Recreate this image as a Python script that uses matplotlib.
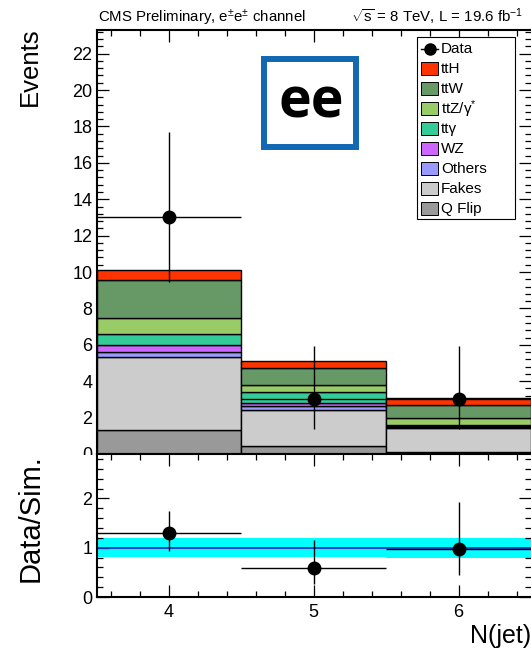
import numpy as np
import matplotlib
matplotlib.use('Agg')
import matplotlib.pyplot as plt
from matplotlib.patches import Rectangle
from matplotlib.lines import Line2D
from matplotlib.ticker import MultipleLocator

plt.rcParams['font.family'] = ['Liberation Sans', 'DejaVu Sans']
plt.rcParams['mathtext.fontset'] = 'custom'
plt.rcParams['mathtext.rm'] = 'Liberation Sans'
plt.rcParams['mathtext.it'] = 'Liberation Sans:italic'
plt.rcParams['mathtext.bf'] = 'Liberation Sans:bold'

# ---------------- data ----------------
njet = [4, 5, 6]
qflip = [1.32, 0.44, 0.13]
fakes = [4.03, 1.96, 1.32]
others = [0.24, 0.26, 0.06]
wz = [0.38, 0.14, 0.04]
ttgamma = [0.64, 0.59, 0.03]
ttz = [0.86, 0.42, 0.42]
ttw = [2.07, 0.90, 0.70]
tth = [0.57, 0.42, 0.36]

data = [13, 3, 3]
data_err_lo = [3.56, 1.63, 1.63]
data_err_hi = [4.68, 2.92, 2.92]

ratio = [1.29, 0.58, 0.98]
ratio_lo = [0.935, 0.27, 0.44]
ratio_hi = [1.75, 1.15, 1.93]
band_lo = [0.81, 0.81, 0.785]
band_hi = [1.19, 1.19, 1.19]

stack_names = ['Q Flip', 'Fakes', 'Others', 'WZ', 'tt\u03b3', 'ttZ/\u03b3$^{*}$', 'ttW', 'ttH']
stack_vals = [qflip, fakes, others, wz, ttgamma, ttz, ttw, tth]
stack_cols = ['#999999', '#CCCCCC', '#9999FF', '#CC66FF', '#33CC99', '#99CC66', '#669966', '#FF3300']

# ---------------- figure ----------------
W, H = 531, 653
fig = plt.figure(figsize=(W / 100, H / 100), dpi=100)

def fx(x):
    return x / W

def fy(y):
    return 1 - y / H

ax = fig.add_axes([fx(96.5), fy(454), 1 - fx(96.5), (454 - 30) / H])
axr = fig.add_axes([fx(96.5), fy(597), 1 - fx(96.5), (597 - 454) / H])

bottom = np.zeros(len(njet))
for vals, col in zip(stack_vals, stack_cols):
    ax.bar(njet, vals, width=1.0, bottom=bottom, color=col, edgecolor='black',
           linewidth=1.0, zorder=2)
    bottom += np.array(vals)

ax.errorbar(njet, data, xerr=0.5, yerr=[data_err_lo, data_err_hi], fmt='o',
            color='black', ms=9, elinewidth=1.0, capsize=0, zorder=5, clip_on=False)

# ratio panel
axr.bar(njet, np.array(band_hi) - np.array(band_lo), bottom=band_lo, width=1.0,
        color='#00FFFF', linewidth=0, zorder=1)
axr.axhline(1.0, color='#2233CC', lw=1.3, zorder=2)
rlo = np.array(ratio) - np.array(ratio_lo)
rhi = np.array(ratio_hi) - np.array(ratio)
axr.errorbar(njet, ratio, xerr=0.5, yerr=[rlo, rhi], fmt='o', color='black', ms=9,
             elinewidth=1.0, capsize=0, zorder=5, clip_on=False)

for a in (ax, axr):
    a.set_xlim(3.5, 6.5)
    a.xaxis.set_major_locator(MultipleLocator(1))
    a.xaxis.set_minor_locator(MultipleLocator(0.2))
    a.tick_params(which='both', direction='in', top=True, right=True, width=0.9,
                  labelsize=13, colors='black')
    a.tick_params(which='major', length=8.6)
    a.tick_params(which='minor', length=4.3)
    for s in ('left', 'bottom', 'top'):
        a.spines[s].set_linewidth(1.5)
    a.spines['right'].set_visible(False)

ax.set_ylim(0, 23.3)
ax.yaxis.set_major_locator(MultipleLocator(2))
ax.yaxis.set_minor_locator(MultipleLocator(0.4))
ax.tick_params(axis='x', labelbottom=False)
ax.tick_params(axis='y', pad=3)

axr.set_ylim(0, 2.9)
axr.yaxis.set_major_locator(MultipleLocator(1))
axr.yaxis.set_minor_locator(MultipleLocator(0.2))
axr.tick_params(axis='x', pad=5)
axr.tick_params(axis='y', pad=3)

# cover the lower half of the top panel's "0" label like the lower pad does
fig.add_artist(Rectangle((0, fy(472)), fx(94), (472 - 455) / H, transform=fig.transFigure,
                         facecolor='white', edgecolor='none', zorder=1.5))

# axis titles
fig.text(fx(30), fy(27), 'Events', rotation=90, ha='center', va='top', fontsize=18.5)
fig.text(fx(31), fy(454), 'Data/Sim.', rotation=90, ha='center', va='top', fontsize=21)
fig.text(fx(531), fy(643), 'N(jet)', ha='right', va='baseline', fontsize=18)

# header
fig.text(fx(98), fy(22.5), 'CMS Preliminary, e$^{\\pm}$e$^{\\pm}$ channel', fontsize=10.8,
         ha='left', va='baseline')
fig.text(fx(523), fy(22.5), r'$\sqrt{\mathrm{s}}$ = 8 TeV, L = 19.6 fb$^{-1}$', fontsize=10.8,
         ha='right', va='baseline')

# "ee" box
fig.add_artist(Rectangle((fx(264), fy(147)), (356 - 264) / W, (147 - 59) / H,
                         transform=fig.transFigure, fill=False, edgecolor='#1268B3',
                         linewidth=4.3, zorder=6))
fig.text(fx(311), fy(118), 'ee', ha='center', va='baseline', fontsize=40,
         fontweight='bold', family=['Open Sans', 'DejaVu Sans'], zorder=6)

# legend
fig.add_artist(Rectangle((fx(417.3), fy(219)), (515 - 417.3) / W, (219 - 37.3) / H,
                         transform=fig.transFigure, facecolor='white', edgecolor='black',
                         linewidth=0.8, zorder=6))
entries = [('Data', None)] + list(zip(stack_names[::-1], stack_cols[::-1]))
for i, (label, col) in enumerate(entries):
    y = 48.7 + 20 * i
    if col is None:
        fig.add_artist(Line2D([fx(421), fx(438)], [fy(y), fy(y)], color='black', lw=1.0,
                              transform=fig.transFigure, zorder=7))
        fig.add_artist(Line2D([fx(430)], [fy(y)], marker='o', ms=8, color='black',
                              transform=fig.transFigure, zorder=7))
    else:
        fig.add_artist(Rectangle((fx(421), fy(y + 6.5)), 17 / W, 13 / H,
                                 transform=fig.transFigure, facecolor=col,
                                 edgecolor='black', linewidth=0.7, zorder=7))
    fig.text(fx(441), fy(y), label, ha='left', va='center', fontsize=11, zorder=8)

fig.savefig('out.png', dpi=100)
